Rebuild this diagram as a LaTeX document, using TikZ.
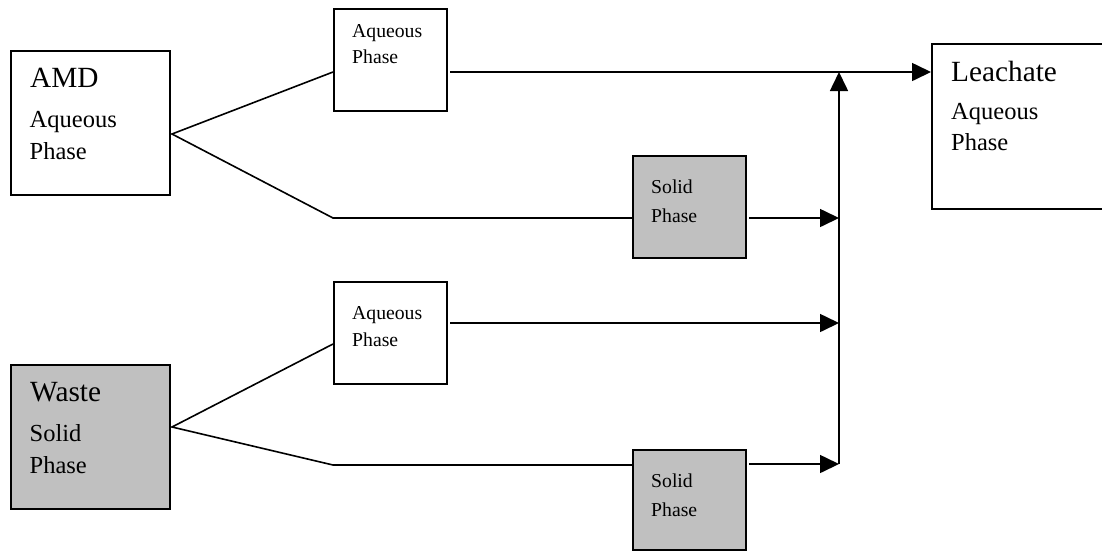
\documentclass[tikz,border=0pt]{standalone}
\usepackage{fontspec}
\setmainfont{Liberation Serif}
\usetikzlibrary{arrows.meta}
\definecolor{boxgray}{HTML}{C0C0C0}
\tikzset{
  box/.style={draw=black, line width=1.6pt, inner sep=0pt, anchor=north west},
  whitebox/.style={box, fill=white},
  graybox/.style={box, fill=boxgray},
  bigbox/.style={minimum width=159pt, minimum height=144pt},
  smallbox/.style={minimum width=113pt, minimum height=102pt},
  titletxt/.style={anchor=base west, inner sep=0pt, font=\fontsize{29.3}{30}\selectfont},
  midtxt/.style={anchor=base west, inner sep=0pt, font=\fontsize{24.5}{26}\selectfont},
  smalltxt/.style={anchor=base west, inner sep=0pt, font=\fontsize{19.7}{21}\selectfont},
  conn/.style={line width=1.6pt},
  arr/.style={conn, -{Triangle[length=19pt, width=18pt]}}
}
\begin{document}
\begin{tikzpicture}[x=1pt, y=-1pt]
\useasboundingbox (0,0) rectangle (1102,550);

% boxes
\node[whitebox, bigbox] (amd) at (10,50) {};
\node[graybox, bigbox] (waste) at (10,364) {};
\node[whitebox, smallbox] (aq1) at (333,8) {};
\node[whitebox, smallbox] (aq2) at (333,281) {};
\node[graybox, smallbox] (sol1) at (632,155) {};
\node[graybox, minimum width=113pt, minimum height=100pt] (sol2) at (632,449) {};
\node[whitebox, minimum width=190pt, minimum height=165pt] (leach) at (931,43) {};

% texts
\node[titletxt] (amdT) at (30,87.7) {AMD};
\node[midtxt] (amdA) at (29.5,127.3) {Aqueous};
\node[midtxt] (amdP) at (29.5,159) {Phase};

\node[titletxt] (wasteT) at (30,401.7) {Waste};
\node[midtxt] (wasteS) at (29.5,441) {Solid};
\node[midtxt] (wasteP) at (29.5,473) {Phase};

\node[titletxt] (leachT) at (951,81.7) {Leachate};
\node[midtxt] (leachA) at (951,119) {Aqueous};
\node[midtxt] (leachP) at (951,150.7) {Phase};

\node[smalltxt] (aq1A) at (352,37.3) {Aqueous};
\node[smalltxt] (aq1P) at (352,63.3) {Phase};
\node[smalltxt] (aq2A) at (352,319.3) {Aqueous};
\node[smalltxt] (aq2P) at (352,346.5) {Phase};
\node[smalltxt] (sol1S) at (651,193.3) {Solid};
\node[smalltxt] (sol1P) at (651,222.3) {Phase};
\node[smalltxt] (sol2S) at (651,487.3) {Solid};
\node[smalltxt] (sol2P) at (651,516) {Phase};

% connection points
\coordinate (s1) at (172,134);
\coordinate (s2) at (172,427);
\coordinate (b1) at (333,218);
\coordinate (b2) at (333,465);
\coordinate (bustop) at (839,72);
\coordinate (busbot) at (839,464);

% splits
\draw[conn] (aq1.west |- 0,72) -- (s1) -- (b1) -- (sol1.west |- b1);
\draw[conn] (aq2.west |- 0,344) -- (s2) -- (b2) -- (sol2.west |- b2);

% outputs
\draw[arr] ([xshift=2.5pt]aq1.east |- bustop) -- (leach.west |- bustop);
\draw[arr] ([xshift=2.5pt]sol1.east |- 0,218) -- (bustop |- 0,218);
\draw[arr] ([xshift=2.5pt]aq2.east |- 0,323) -- (bustop |- 0,323);
\draw[arr] ([xshift=2.5pt]sol2.east |- busbot) -- (busbot);
\draw[arr] (busbot) -- (bustop);
\end{tikzpicture}
\end{document}
